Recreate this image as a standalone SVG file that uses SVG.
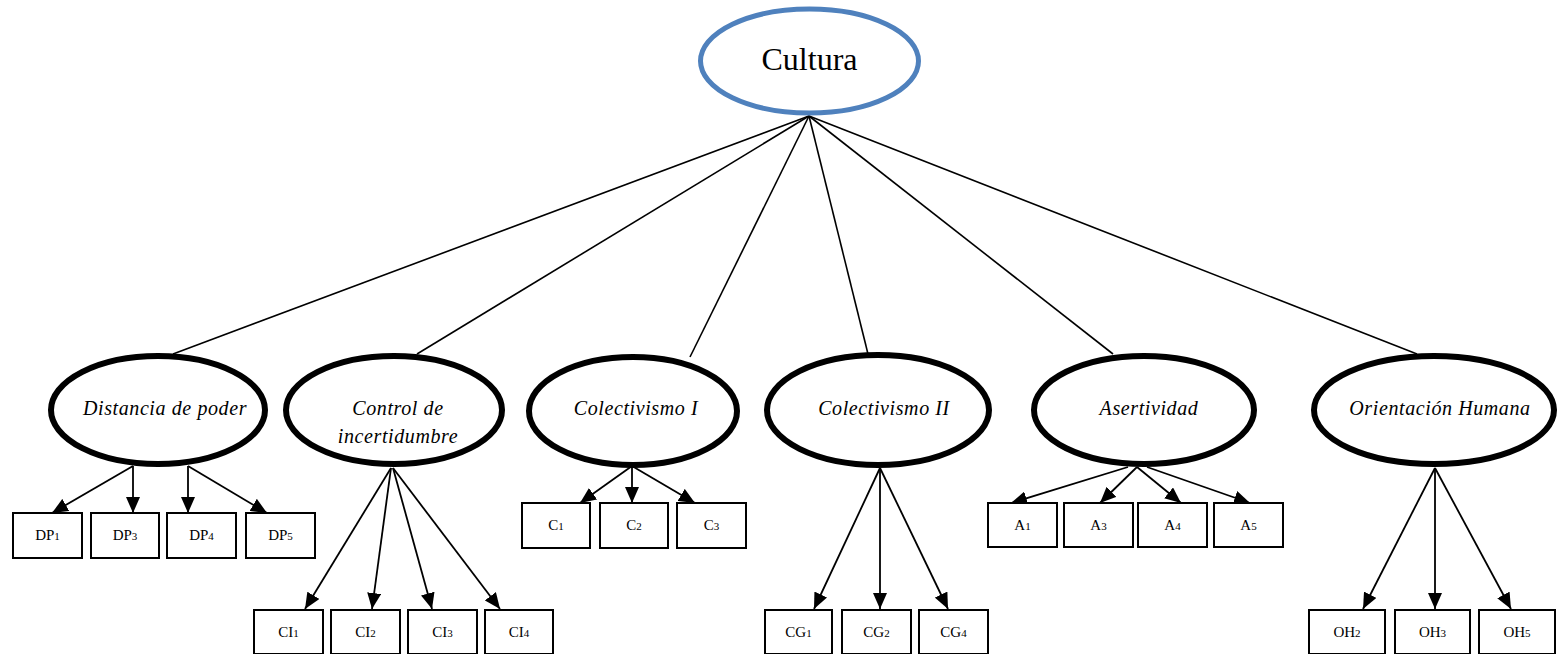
<svg xmlns="http://www.w3.org/2000/svg" width="1557" height="654" viewBox="0 0 1557 654">
  <style>
    .bg { fill: #ffffff; }
    .root { fill: #ffffff; stroke: #4F81BD; stroke-width: 5; }
    .factor { fill: #ffffff; stroke: #000000; stroke-width: 6; }
    .item { fill: #ffffff; stroke: #000000; stroke-width: 2; }
    .edge { stroke: #000000; stroke-width: 1.6; fill: none; }
    .arrow { stroke: #000000; stroke-width: 1.8; fill: none; marker-end: url(#head); }
    .t-root { font-family: "Liberation Serif", "DejaVu Serif", serif; font-size: 32px; fill: #000; text-anchor: middle; }
    .t-factor { font-family: "Liberation Serif", "DejaVu Serif", serif; font-size: 20px; letter-spacing: 0.6px; font-style: italic; fill: #000; text-anchor: middle; }
    .t-item { font-family: "Liberation Serif", "DejaVu Serif", serif; font-size: 15px; fill: #000; text-anchor: middle; }
    .sub { font-size: 11px; }
  </style>
  <defs>
    <marker id="head" viewBox="0 0 16 14" refX="16" refY="7" markerWidth="16" markerHeight="14" markerUnits="userSpaceOnUse" orient="auto">
      <path d="M0,0 L16,7 L0,14 z" fill="#000000"/>
    </marker>
  </defs>
  <rect class="bg" x="0" y="0" width="1557" height="654"/>

  <!-- connectors -->
  <g id="connectors">
    <!-- root to factors -->
    <line class="edge" x1="809" y1="116" x2="173" y2="354"/>
    <line class="edge" x1="809" y1="116" x2="417" y2="354"/>
    <line class="edge" x1="809" y1="116" x2="690" y2="357"/>
    <line class="edge" x1="809" y1="116" x2="868" y2="354"/>
    <line class="edge" x1="809" y1="116" x2="1113" y2="354"/>
    <line class="edge" x1="809" y1="116" x2="1417" y2="354"/>
    <!-- Distancia de poder -->
    <line class="arrow" x1="133" y1="466" x2="52" y2="513"/>
    <line class="arrow" x1="133" y1="466" x2="133" y2="513"/>
    <line class="arrow" x1="188" y1="466" x2="188" y2="513"/>
    <line class="arrow" x1="188" y1="466" x2="267" y2="513"/>
    <!-- Control de incertidumbre -->
    <line class="arrow" x1="391" y1="468" x2="305" y2="609"/>
    <line class="arrow" x1="391" y1="468" x2="372" y2="609"/>
    <line class="arrow" x1="393" y1="468" x2="432" y2="609"/>
    <line class="arrow" x1="393" y1="468" x2="500" y2="609"/>
    <!-- Colectivismo I -->
    <line class="arrow" x1="632" y1="466" x2="580" y2="503"/>
    <line class="arrow" x1="632" y1="466" x2="632" y2="503"/>
    <line class="arrow" x1="632" y1="466" x2="695" y2="503"/>
    <!-- Colectivismo II -->
    <line class="arrow" x1="880" y1="468" x2="814" y2="609"/>
    <line class="arrow" x1="880" y1="468" x2="880" y2="609"/>
    <line class="arrow" x1="880" y1="468" x2="948" y2="609"/>
    <!-- Asertividad -->
    <line class="arrow" x1="1128" y1="467" x2="1011" y2="503"/>
    <line class="arrow" x1="1137" y1="467" x2="1100" y2="503"/>
    <line class="arrow" x1="1137" y1="467" x2="1181" y2="503"/>
    <line class="arrow" x1="1147" y1="467" x2="1250" y2="503"/>
    <!-- Orientacion Humana -->
    <line class="arrow" x1="1435" y1="468" x2="1363" y2="609"/>
    <line class="arrow" x1="1435" y1="468" x2="1435" y2="609"/>
    <line class="arrow" x1="1435" y1="468" x2="1511" y2="609"/>
  </g>

  <!-- root -->
  <g id="cultura">
    <ellipse class="root" cx="809.5" cy="61" rx="109" ry="52"/>
    <text class="t-root" x="809.5" y="70">Cultura</text>
  </g>

  <!-- factors -->
  <g id="distancia-de-poder">
    <ellipse class="factor" cx="158" cy="410" rx="107" ry="54"/>
    <text class="t-factor" x="165" y="415">Distancia de poder</text>
  </g>
  <g id="control-de-incertidumbre">
    <ellipse class="factor" cx="394" cy="410" rx="108" ry="54"/>
    <text class="t-factor" x="398" y="415">Control de</text>
    <text class="t-factor" x="398" y="443">incertidumbre</text>
  </g>
  <g id="colectivismo-1">
    <ellipse class="factor" cx="633" cy="411" rx="104" ry="54"/>
    <text class="t-factor" x="636" y="415">Colectivismo I</text>
  </g>
  <g id="colectivismo-2">
    <ellipse class="factor" cx="878" cy="410" rx="111" ry="55"/>
    <text class="t-factor" x="884" y="415">Colectivismo II</text>
  </g>
  <g id="asertividad">
    <ellipse class="factor" cx="1144" cy="410" rx="110" ry="54"/>
    <text class="t-factor" x="1149" y="415">Asertividad</text>
  </g>
  <g id="orientacion-humana">
    <ellipse class="factor" cx="1434" cy="410" rx="120" ry="54"/>
    <text class="t-factor" x="1440" y="415">Orientación Humana</text>
  </g>

  <!-- indicators -->
  <g id="dp1"><rect class="item" x="13" y="513" width="69" height="45"/><text class="t-item" x="47.5" y="540">DP<tspan class="sub">1</tspan></text></g>
  <g id="dp3"><rect class="item" x="91" y="513" width="68" height="45"/><text class="t-item" x="125" y="540">DP<tspan class="sub">3</tspan></text></g>
  <g id="dp4"><rect class="item" x="167" y="513" width="69" height="45"/><text class="t-item" x="201.5" y="540">DP<tspan class="sub">4</tspan></text></g>
  <g id="dp5"><rect class="item" x="246" y="513" width="69" height="45"/><text class="t-item" x="280.5" y="540">DP<tspan class="sub">5</tspan></text></g>

  <g id="ci1"><rect class="item" x="254" y="610" width="69" height="44"/><text class="t-item" x="288.5" y="637">CI<tspan class="sub">1</tspan></text></g>
  <g id="ci2"><rect class="item" x="331" y="610" width="69" height="44"/><text class="t-item" x="365.5" y="637">CI<tspan class="sub">2</tspan></text></g>
  <g id="ci3"><rect class="item" x="408" y="610" width="69" height="44"/><text class="t-item" x="442.5" y="637">CI<tspan class="sub">3</tspan></text></g>
  <g id="ci4"><rect class="item" x="485" y="610" width="68" height="44"/><text class="t-item" x="519" y="637">CI<tspan class="sub">4</tspan></text></g>

  <g id="c1"><rect class="item" x="522" y="503" width="68" height="45"/><text class="t-item" x="556" y="530">C<tspan class="sub">1</tspan></text></g>
  <g id="c2"><rect class="item" x="600" y="503" width="68" height="45"/><text class="t-item" x="634" y="530">C<tspan class="sub">2</tspan></text></g>
  <g id="c3"><rect class="item" x="677" y="503" width="69" height="45"/><text class="t-item" x="711.5" y="530">C<tspan class="sub">3</tspan></text></g>

  <g id="cg1"><rect class="item" x="765" y="610" width="67" height="44"/><text class="t-item" x="798.5" y="637">CG<tspan class="sub">1</tspan></text></g>
  <g id="cg2"><rect class="item" x="842" y="610" width="69" height="44"/><text class="t-item" x="876.5" y="637">CG<tspan class="sub">2</tspan></text></g>
  <g id="cg4"><rect class="item" x="919" y="610" width="69" height="44"/><text class="t-item" x="953.5" y="637">CG<tspan class="sub">4</tspan></text></g>

  <g id="a1"><rect class="item" x="988" y="503" width="69" height="44"/><text class="t-item" x="1022.5" y="530">A<tspan class="sub">1</tspan></text></g>
  <g id="a3"><rect class="item" x="1064" y="503" width="69" height="44"/><text class="t-item" x="1098.5" y="530">A<tspan class="sub">3</tspan></text></g>
  <g id="a4"><rect class="item" x="1138" y="503" width="69" height="44"/><text class="t-item" x="1172.5" y="530">A<tspan class="sub">4</tspan></text></g>
  <g id="a5"><rect class="item" x="1214" y="503" width="69" height="44"/><text class="t-item" x="1248.5" y="530">A<tspan class="sub">5</tspan></text></g>

  <g id="oh2"><rect class="item" x="1309" y="610" width="76" height="44"/><text class="t-item" x="1347" y="637">OH<tspan class="sub">2</tspan></text></g>
  <g id="oh3"><rect class="item" x="1395" y="610" width="75" height="44"/><text class="t-item" x="1432.5" y="637">OH<tspan class="sub">3</tspan></text></g>
  <g id="oh5"><rect class="item" x="1479" y="610" width="76" height="44"/><text class="t-item" x="1517" y="637">OH<tspan class="sub">5</tspan></text></g>
</svg>
